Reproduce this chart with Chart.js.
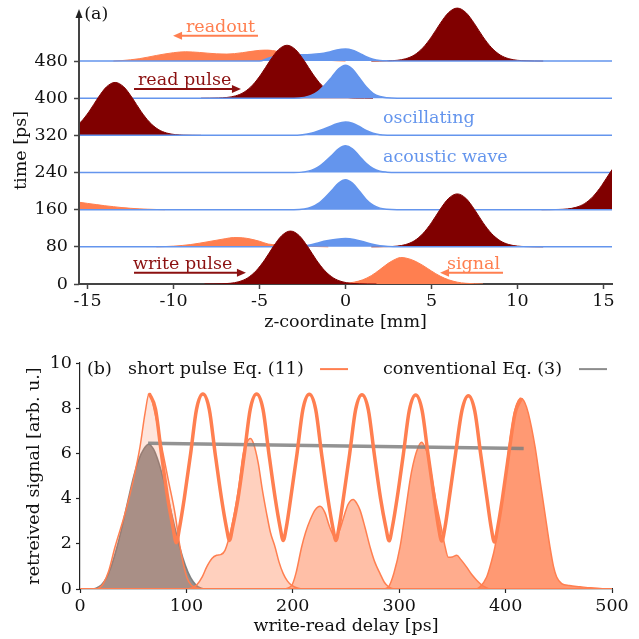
<!DOCTYPE html>
<html>
<head>
<meta charset="utf-8">
<script src="https://cdn.jsdelivr.net/npm/chart.js@4.4.1/dist/chart.umd.min.js"></script>
<style>
  body { margin: 0; background: #fff; }
  canvas { position: absolute; left: 0; }
  #top { top: 0; }
  #bottom { top: 340px; }
</style>
</head>
<body>
<canvas id="top" width="639" height="340"></canvas>
<canvas id="bottom" width="639" height="299"></canvas>
<script>
// ---------- panel (a): z [mm] against time rows [ps], heights in ps above each row
const zTicks = [-15, -10, -5, 0, 5, 10, 15]
const timeTicks = [0, 80, 160, 240, 320, 400, 480]

// write/read pulse profile: [offset from centre in mm, height]
const pulseShape = [[-5, 0], [-4, 0.5], [-3.5, 1.6], [-3, 5], [-2.5, 13], [-2, 28.5], [-1.5, 52], [-1, 80.5], [-0.5, 104.5], [0, 114],
  [0.5, 104.5], [1, 80.5], [1.5, 52], [2, 28.5], [2.5, 13], [3, 5], [3.5, 1.6], [4, 0.5], [5, 0]]
// [row time, pulse centre in mm]
const pulseRows = [[0, -3.2], [80, 6.5], [160, 16.4], [320, -13.4], [400, -3.4], [480, 6.5]]

// acoustic wave per row: [z, height]
const acousticRows = {
  80: [[-15.5, 0], [-3, 0], [-2.5, 1.5], [-2, 4.5], [-1.5, 9.5], [-1, 13.5], [-0.5, 16.5], [0, 17.8], [0.5, 16], [1, 11.5], [1.5, 6], [2, 2.2], [2.5, 0.6], [3, 0], [15.5, 0]],
  160: [[-15.5, 0], [-3, 0], [-2.4, 1.6], [-2, 5.2], [-1.6, 12.9], [-1.2, 25.8], [-0.8, 41.3], [-0.4, 57.4], [0, 64.5], [0.4, 57.3], [0.8, 40.1], [1.2, 22.1], [1.6, 9.6], [2, 3.3], [2.4, 0.9], [3, 0], [15.5, 0]],
  240: [[-15.5, 0], [-3, 0], [-2.4, 1.4], [-2, 4.6], [-1.6, 11.5], [-1.2, 23], [-0.8, 36.7], [-0.4, 51], [0, 57.4], [0.4, 51], [0.8, 35.6], [1.2, 19.7], [1.6, 8.6], [2, 2.9], [2.4, 0.8], [3, 0], [15.5, 0]],
  320: [[-15.5, 0], [-3, 0], [-2.5, 1.5], [-2, 4.5], [-1.5, 10.5], [-1, 17.5], [-0.5, 25], [0, 28.6], [0.4, 26], [0.8, 19], [1.2, 10.5], [1.6, 4.5], [2, 1.5], [2.5, 0.3], [3, 0], [15.5, 0]],
  400: [[-15.5, 0], [-3, 0], [-2.4, 1.8], [-2, 5.7], [-1.6, 14.2], [-1.2, 28.4], [-0.8, 45.4], [-0.4, 63.2], [0, 71], [0.4, 63], [0.8, 44.1], [1.2, 24.4], [1.6, 10.6], [2, 3.6], [2.4, 1], [3, 0], [15.5, 0]],
  480: [[-15.5, 0], [-5, 0], [-4.5, 6], [-4, 11], [-3, 13], [-2, 14], [-1.5, 15.5], [-1, 19], [-0.5, 24], [0, 25.8], [0.4, 23.5], [0.8, 17], [1.2, 9.5], [1.6, 4], [2, 1.3], [2.5, 0.3], [3, 0], [15.5, 0]],
}

// signal / readout light per row: [z, height]
const lightRows = {
  0: [[-1, 0], [0, 1.5], [0.5, 4], [1, 9], [1.5, 18], [2, 31], [2.5, 45], [3, 55], [3.2, 57], [3.5, 56], [4, 50], [4.5, 40], [5, 28], [5.5, 17], [6, 9], [6.5, 4], [7, 1.5], [8, 0]],
  80: [[-11, 0], [-10, 1.5], [-9, 5], [-8, 11], [-7, 17.5], [-6.5, 20], [-6, 19.5], [-5, 12], [-4.5, 6], [-4, 4.5], [-3, 3], [-2, 1], [-1, 0]],
  160: [[-15.5, 16], [-15, 13.5], [-14.5, 11], [-14, 8.5], [-13.5, 6.5], [-13, 4.5], [-12.5, 3], [-12, 1.8], [-11.5, 1], [-11, 0.4], [-10.5, 0]],
  480: [[-13.5, 0], [-13, 1], [-12, 5], [-11, 12], [-10, 18], [-9.3, 20], [-8.5, 18.5], [-7.5, 15.5], [-6.9, 15], [-6, 18], [-5, 23], [-4.5, 23.5], [-4, 21], [-3, 14], [-2, 6], [-1, 1.5], [0, 0]],
}

// ---------- panel (b): write-read delay [ps] against retrieved signal
const delayTicks = [0, 100, 200, 300, 400, 500]
const signalTicks = [0, 2, 4, 6, 8, 10]

const shortPulse = [[65, 8.66], [71, 7.95], [76.5, 6], [82.5, 4], [87.5, 2.7], [90.5, 2.05], [93.5, 2.7], [98, 4], [104, 6], [109.5, 7.95],
  [115.5, 8.63], [121.5, 7.95], [127, 6], [133, 4], [137.5, 2.75], [140.5, 2.15], [143.5, 2.75], [148.5, 4], [154.5, 6], [160, 7.95],
  [166, 8.63], [172, 7.95], [177.5, 6], [183.5, 4], [188, 2.75], [191, 2.15], [194, 2.75], [198, 4], [204, 6], [209.5, 7.95],
  [215.5, 8.62], [221.5, 7.95], [227, 6], [233, 4], [237.5, 2.75], [240.5, 2.15], [243.5, 2.75], [247.5, 4], [253.5, 6], [259, 7.93],
  [265, 8.6], [271, 7.93], [276.5, 6], [282.5, 4], [287.5, 2.72], [290.5, 2.13], [293.5, 2.72], [298, 4], [304, 6], [309.5, 7.9],
  [315.5, 8.58], [321.5, 7.9], [327, 6], [333, 4], [337, 2.72], [340, 2.12], [343, 2.72], [347, 4], [353, 6], [359, 7.9],
  [365, 8.55], [371, 7.88], [376.5, 6], [382.5, 4], [386.5, 2.7], [389.5, 2.08], [392.5, 2.7], [397, 4], [403, 6], [409, 7.8], [415, 8.45]]
const conventional = [[64, 6.45], [417, 6.22]]

const convPulse = [[0, 0], [10, 0], [15, 0.04], [20, 0.18], [25, 0.5], [30, 1.1], [35, 1.9], [40, 2.85], [45, 3.9], [50, 4.9], [55, 5.7], [60, 6.2], [64.5, 6.41],
  [69, 6.2], [74, 5.6], [79, 4.75], [84, 3.75], [89, 2.75], [94, 1.8], [99, 1.05], [104, 0.5], [109, 0.18], [114, 0.04], [120, 0], [500, 0]]
const retrieved1 = [[0, 0], [15, 0], [19, 0.08], [21.9, 0.24], [27, 0.8], [32.9, 1.86], [42.3, 3.34], [50.1, 4.82], [56.4, 6.29], [61.1, 7.77], [65, 8.66],
  [70.5, 7.77], [76.8, 6.29], [83, 4.82], [89.3, 3.34], [94, 1.86], [100.3, 0.53], [105, 0.15], [110, 0.03], [120, 0], [500, 0]]
const retrieved2 = [[0, 0], [100, 0], [105, 0.05], [110, 0.2], [115, 0.55], [119, 0.97], [124, 1.35], [128.4, 1.49], [132, 1.52], [136.3, 1.71], [142.5, 2.75],
  [148.8, 4.37], [153.5, 6], [157, 6.5], [160, 6.66], [163, 6.45], [167.6, 5.55], [171, 4.5], [175.4, 3.34], [179, 2.5], [183.3, 1.86], [187, 1.2],
  [191, 0.68], [195, 0.35], [199, 0.16], [205, 0.03], [210, 0], [500, 0]]
const retrieved3 = [[0, 0], [190, 0], [199, 0.16], [203, 0.7], [208.3, 1.86], [212, 2.5], [216.2, 3.04], [221, 3.5], [225.6, 3.66], [230, 3.4], [235, 2.7],
  [239.7, 2.3], [244, 2.6], [248, 3.2], [252, 3.75], [256.9, 3.96], [260, 3.8], [263.2, 3.49], [268, 2.7], [272.6, 1.86], [277, 1.2], [282, 0.68],
  [286, 0.3], [290, 0.1], [296, 0], [500, 0]]
const retrieved4 = [[0, 0], [285, 0], [290, 0.1], [295, 0.7], [300.8, 1.86], [305.5, 3.3], [310.2, 4.82], [313, 5.5], [316.4, 6.1], [321.1, 6.49], [324, 6.3],
  [327.4, 5.85], [330.5, 5], [333.8, 4.08], [337, 3.3], [340, 2.6], [343, 1.9], [346.2, 1.4], [350, 1.42], [354.1, 1.49], [358, 1.3], [363.4, 0.97],
  [368, 0.65], [372.8, 0.39], [377, 0.2], [381, 0.08], [386, 0], [500, 0]]
const retrieved5 = [[0, 0], [372, 0], [376, 0.1], [382.2, 0.53], [386, 1.1], [390, 1.86], [394.7, 3.34], [399.4, 4.82], [404.1, 6.59], [408.8, 7.92], [412, 8.35],
  [415, 8.43], [418, 8.25], [421.4, 7.77], [427.7, 6.29], [432.3, 4.82], [437, 3.34], [441.7, 1.86], [445, 1], [448, 0.53], [452.7, 0.24], [460, 0.15],
  [470, 0.1], [480, 0.05], [491, 0.01], [500, 0]]
const retrievedAlpha = [0.2, 0.37, 0.5, 0.65, 0.8]

const coral = '#ff7f50'
const maroon = '#800000'
const blue = '#6495ed'
const darkRed = '#8b1010'
const FONT = '"DejaVu Serif", serif'
const FS = 17.5

Chart.defaults.font.family = FONT
Chart.defaults.font.size = FS
Chart.defaults.color = '#111'

function toXY(points, base) {
  return points.map(p => ({ x: p[0], y: base + p[1] }))
}

// ---------- top chart datasets, lower rows drawn over upper rows
const topSets = []
timeTicks.forEach((t, r) => {
  const common = { pointRadius: 0, cubicInterpolationMode: 'monotone', fill: { value: t } }
  if (acousticRows[t]) {
    topSets.push({ ...common, data: toXY(acousticRows[t], t), borderColor: blue, borderWidth: 1.5, backgroundColor: blue, order: r * 3 })
  }
  const p = pulseRows.find(q => q[0] === t)
  if (p) {
    const pts = pulseShape.map(s => [p[1] + s[0], s[1]])
    topSets.push({ ...common, data: toXY(pts, t), borderColor: maroon, borderWidth: 1, backgroundColor: maroon, order: r * 3 + 1 })
  }
  if (lightRows[t]) {
    topSets.push({ ...common, data: toXY(lightRows[t], t), borderColor: coral, borderWidth: 1, backgroundColor: coral, order: r * 3 + 2 })
  }
})

const topLabels = [
  { text: '(a)', z: -15.2, t: 581, color: '#111' },
  { text: 'readout', z: -9.28, t: 553, color: coral },
  { text: 'read pulse', z: -12.07, t: 437.7, color: darkRed },
  { text: 'oscillating', z: 2.18, t: 356.8, color: blue },
  { text: 'acoustic wave', z: 2.18, t: 272.8, color: blue },
  { text: 'write pulse', z: -12.36, t: 42.4, color: darkRed },
  { text: 'signal', z: 5.9, t: 43, color: coral },
]
const topArrows = [
  { from: [-5.09, 534.6], to: [-10.03, 534.6], color: coral },
  { from: [-12.3, 419.8], to: [-6.08, 419.8], color: darkRed },
  { from: [-12.3, 24.3], to: [-5.79, 24.3], color: darkRed },
  { from: [9.16, 24.3], to: [5.5, 24.3], color: coral },
]
const timeAxisTop = 575 // where the drawn time axis ends below its arrow head

function drawArrow(ctx, x1, y, x2, color) {
  const dir = x2 > x1 ? 1 : -1
  ctx.strokeStyle = color
  ctx.fillStyle = color
  ctx.lineWidth = 2
  ctx.beginPath()
  ctx.moveTo(x1, y)
  ctx.lineTo(x2 - dir * 7, y)
  ctx.stroke()
  ctx.beginPath()
  ctx.moveTo(x2, y)
  ctx.lineTo(x2 - dir * 9, y - 4)
  ctx.lineTo(x2 - dir * 9, y + 4)
  ctx.closePath()
  ctx.fill()
}

const topNotes = {
  id: 'topNotes',
  afterDraw(chart) {
    const ctx = chart.ctx
    const xs = chart.scales.x, ys = chart.scales.y
    ctx.save()
    // time axis with an arrow head
    const ax = chart.chartArea.left
    const at = ys.getPixelForValue(timeAxisTop)
    ctx.strokeStyle = '#444'
    ctx.lineWidth = 2
    ctx.beginPath()
    ctx.moveTo(ax, chart.chartArea.bottom + 1)
    ctx.lineTo(ax, at)
    ctx.stroke()
    ctx.fillStyle = '#222'
    ctx.beginPath()
    ctx.moveTo(ax, at - 8)
    ctx.lineTo(ax - 3.5, at + 1)
    ctx.lineTo(ax + 3.5, at + 1)
    ctx.closePath()
    ctx.fill()
    ctx.font = FS + 'px ' + FONT
    ctx.textBaseline = 'middle'
    ctx.textAlign = 'left'
    topLabels.forEach(l => {
      ctx.fillStyle = l.color
      ctx.fillText(l.text, xs.getPixelForValue(l.z), ys.getPixelForValue(l.t))
    })
    topArrows.forEach(a => {
      drawArrow(ctx, xs.getPixelForValue(a.from[0]), ys.getPixelForValue(a.from[1]), xs.getPixelForValue(a.to[0]), a.color)
    })
    // y title, centred on the drawn axis
    ctx.fillStyle = '#111'
    ctx.textAlign = 'center'
    ctx.translate(21, (ys.getPixelForValue(0) + at) / 2)
    ctx.rotate(-Math.PI / 2)
    ctx.fillText('time [ps]', 0, 0)
    ctx.restore()
  },
}

new Chart(document.getElementById('top'), {
  type: 'line',
  data: { datasets: topSets },
  options: {
    responsive: false,
    animation: false,
    layout: { padding: { left: 0, top: 4, right: 27, bottom: 0 } },
    plugins: { legend: { display: false }, tooltip: { enabled: false } },
    scales: {
      x: {
        type: 'linear', min: -15.5, max: 15.5,
        afterBuildTicks: s => { s.ticks = zTicks.map(v => ({ value: v })) },
        afterFit: s => { s.height = 56; s.paddingLeft = 0; s.paddingRight = 0 },
        grid: { display: true, drawOnChartArea: false, drawTicks: true, tickLength: 5, tickColor: '#444', tickWidth: 1.5 },
        border: { display: true, color: '#444', width: 2 },
        ticks: { padding: 2, maxRotation: 0 },
        title: { display: true, text: 'z-coordinate [mm]', padding: { top: 0, bottom: 6.8 } },
      },
      y: {
        type: 'linear', min: 0, max: 602.8,
        afterBuildTicks: s => { s.ticks = timeTicks.map(v => ({ value: v })) },
        afterFit: s => { s.width = 79; s.paddingTop = 0; s.paddingBottom = 0 },
        grid: { display: true, drawOnChartArea: false, drawTicks: true, tickLength: 5, tickColor: '#444', tickWidth: 1.5 },
        border: { display: false },
        ticks: { padding: 6 },
        title: { display: false },
      },
    },
  },
  plugins: [topNotes],
})

// ---------- bottom chart
const lineOpts = { pointRadius: 0, cubicInterpolationMode: 'monotone' }
const retrievedSets = [retrieved1, retrieved2, retrieved3, retrieved4, retrieved5].map((d, i) => ({
  ...lineOpts,
  data: toXY(d, 0),
  borderColor: coral,
  borderWidth: 1.5,
  backgroundColor: 'rgba(255,127,80,' + retrievedAlpha[i] + ')',
  fill: 'origin',
  order: 2 + i,
}))

const bottomSets = [
  { ...lineOpts, data: toXY(shortPulse, 0), borderColor: coral, borderWidth: 3.5, fill: false, order: 0 },
  { ...lineOpts, data: toXY(conventional, 0), borderColor: 'rgba(128,128,128,0.85)', borderWidth: 3.5, fill: false, order: 1 },
  ...retrievedSets,
  { ...lineOpts, data: toXY(convPulse, 0), borderColor: 'rgba(120,120,120,0.9)', borderWidth: 1.5, backgroundColor: 'rgba(128,128,128,0.85)', fill: 'origin', order: 7 },
]

const legendItems = [
  { text: '(b)', t: 6.6, v: 9.73 },
  { text: 'short pulse Eq. (11)', t: 45.1, v: 9.73, line: [225.6, 251.9], color: coral },
  { text: 'conventional Eq. (3)', t: 284.8, v: 9.73, line: [469, 495.3], color: 'rgba(128,128,128,0.9)' },
]

const bottomLegend = {
  id: 'bottomLegend',
  afterDraw(chart) {
    const ctx = chart.ctx
    const xs = chart.scales.x, ys = chart.scales.y
    ctx.save()
    ctx.font = FS + 'px ' + FONT
    ctx.textBaseline = 'middle'
    ctx.textAlign = 'left'
    legendItems.forEach(l => {
      const y = ys.getPixelForValue(l.v)
      ctx.fillStyle = '#111'
      ctx.fillText(l.text, xs.getPixelForValue(l.t), y)
      if (l.line) {
        ctx.strokeStyle = l.color
        ctx.lineWidth = 2
        ctx.beginPath()
        ctx.moveTo(xs.getPixelForValue(l.line[0]), y)
        ctx.lineTo(xs.getPixelForValue(l.line[1]), y)
        ctx.stroke()
      }
    })
    ctx.restore()
  },
}

new Chart(document.getElementById('bottom'), {
  type: 'line',
  data: { datasets: bottomSets },
  options: {
    responsive: false,
    animation: false,
    layout: { padding: { left: 0, top: 23, right: 27, bottom: 0 } },
    plugins: { legend: { display: false }, tooltip: { enabled: false } },
    scales: {
      x: {
        type: 'linear', min: 0, max: 500,
        afterBuildTicks: s => { s.ticks = delayTicks.map(v => ({ value: v })) },
        afterFit: s => { s.height = 50 },
        grid: { display: true, drawOnChartArea: false, drawTicks: true, tickLength: 4, tickColor: '#222', tickWidth: 1.2 },
        border: { display: true, color: '#222', width: 1.2 },
        ticks: { padding: 2.5, maxRotation: 0 },
        title: { display: true, text: 'write-read delay [ps]', padding: { top: 0, bottom: 2 } },
      },
      y: {
        type: 'linear', min: 0, max: 10,
        afterBuildTicks: s => { s.ticks = signalTicks.map(v => ({ value: v })) },
        afterFit: s => { s.width = 80 },
        grid: { display: true, drawOnChartArea: false, drawTicks: true, tickLength: 4, tickColor: '#222', tickWidth: 1.2 },
        border: { display: true, color: '#222', width: 1.2 },
        ticks: { padding: 4 },
        title: { display: true, text: 'retreived signal [arb. u.]', padding: { top: 24, bottom: 0 } },
      },
    },
  },
  plugins: [bottomLegend],
})
</script>
</body>
</html>
